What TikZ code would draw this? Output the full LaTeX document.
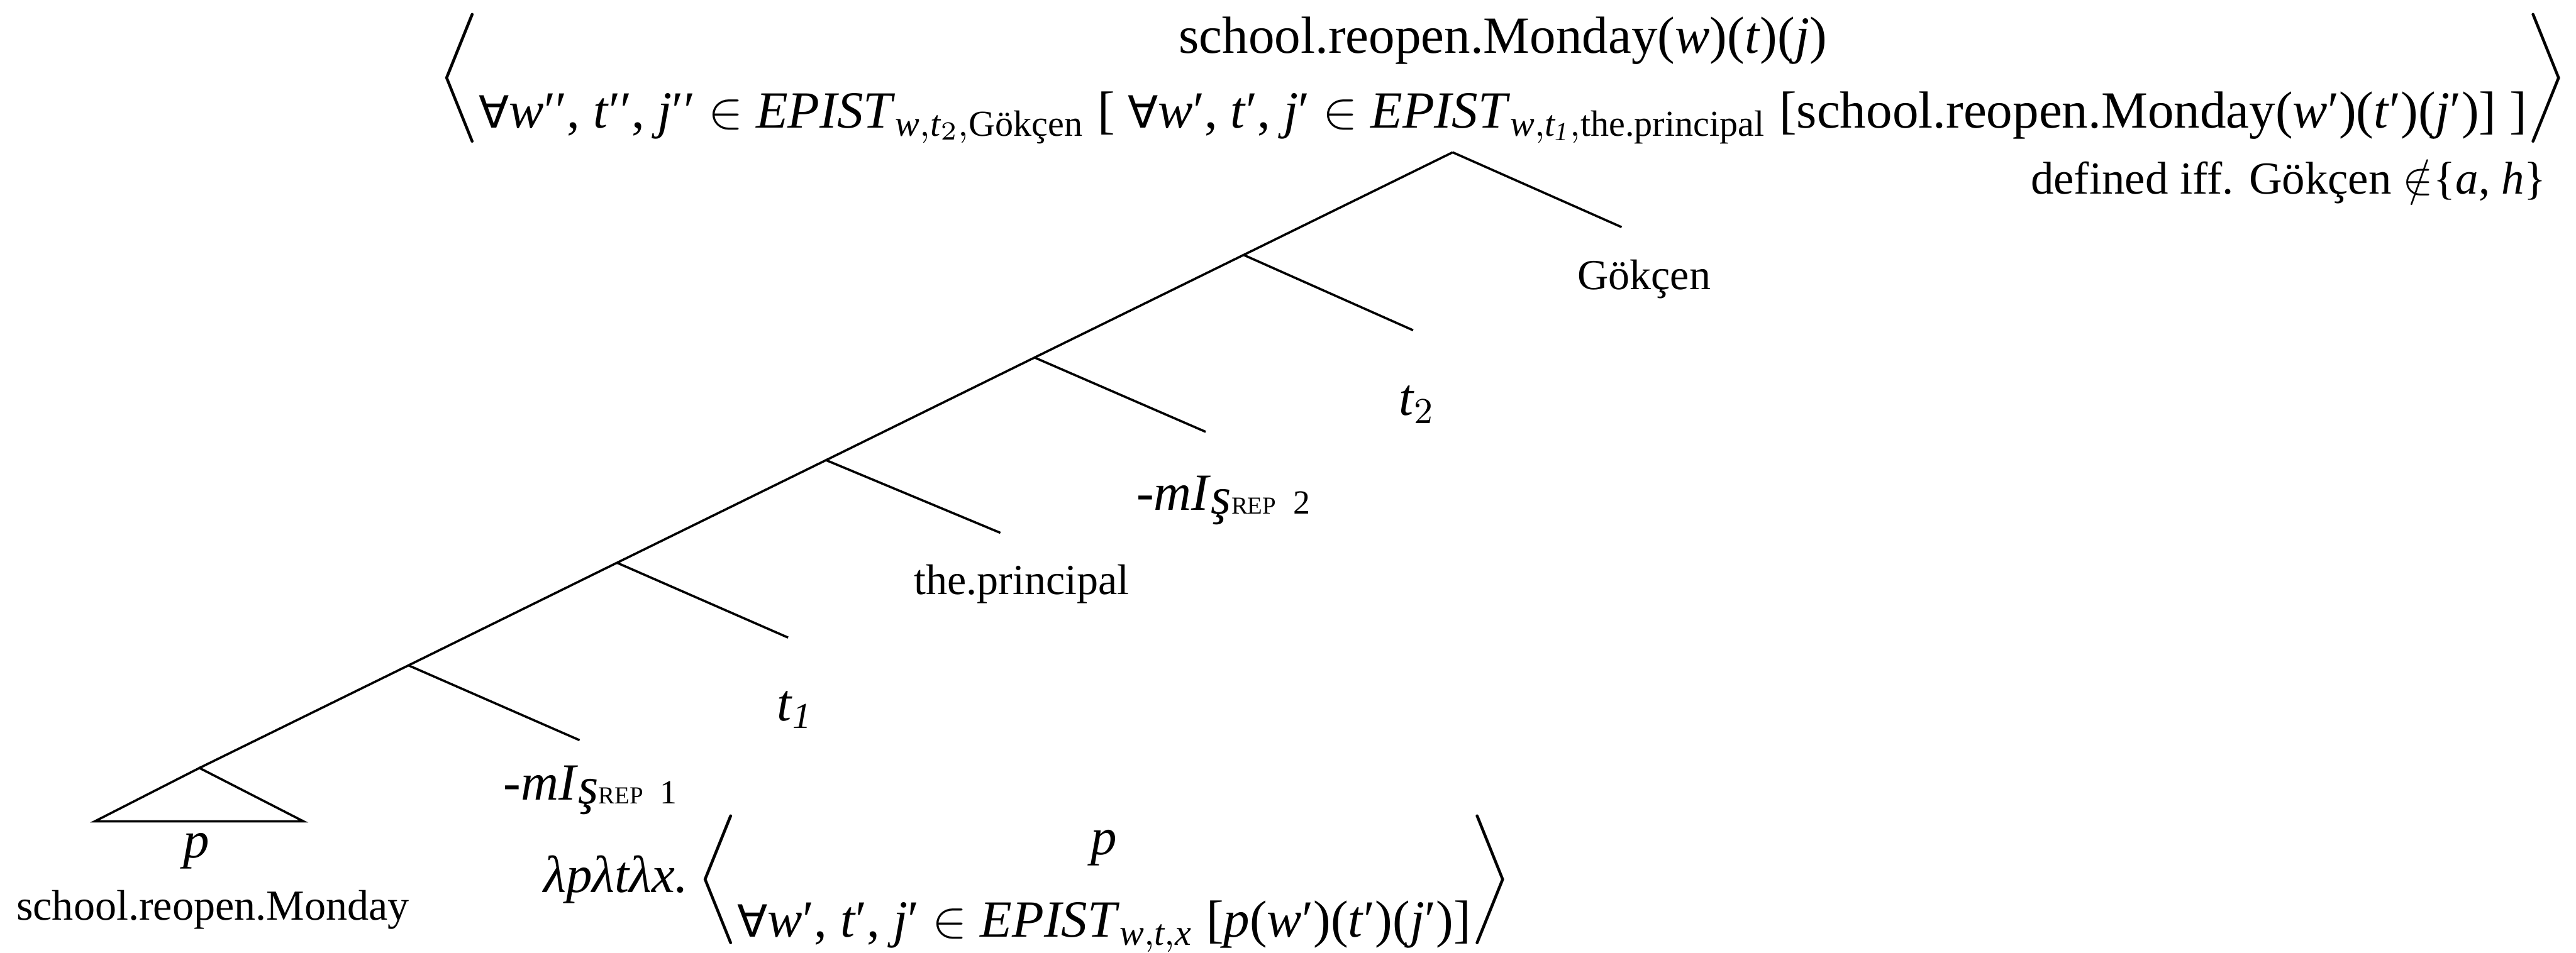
\RequirePackage{fix-cm}
\documentclass[tikz,border=0pt]{standalone}
\usepackage{amsmath}
\usepackage{fontspec}
\setmainfont{Liberation Serif}
\newfontfamily\quantfont[Scale=0.85]{DejaVu Sans}
\usepackage{tikz}
\usetikzlibrary{positioning}
\newcommand{\labsize}{\fontsize{11.4}{13.7}\selectfont}
\newcommand{\semsize}{\fontsize{13.9}{19.9}\selectfont}
\newcommand{\repsize}{\fontsize{6.5}{7}\selectfont}
\newcommand{\idxsize}{\fontsize{9}{10}\selectfont}
\newcommand{\forallsym}{{\quantfont ∀}}
\newcommand{\lowangle}[1]{\raisebox{-0.7pt}{$\bigg#1$}}
\newcommand{\mis}[1]{-\textit{mI}\raisebox{-1pt}{\textit{ş}{\repsize REP}\hspace{4.5pt}{\idxsize #1}}}

\begin{document}
\begin{tikzpicture}[branch/.style={line width=0.6pt}, lab/.style={inner sep=0pt, font=\labsize}, sem/.style={inner sep=0pt, font=\semsize}]
\useasboundingbox (0,0) rectangle (24.09,-8.915);
% spine of the tree
\coordinate (top) at (13.585,-1.425);
\coordinate (n1) at (11.63,-2.385);
\coordinate (n2) at (9.675,-3.345);
\coordinate (n3) at (7.725,-4.305);
\coordinate (n4) at (5.77,-5.265);
\coordinate (n5) at (3.82,-6.225);
\coordinate (n6) at (1.865,-7.185);
% ends of the right branches
\coordinate (e0) at (15.165,-2.125);
\coordinate (e1) at (13.215,-3.09);
\coordinate (e2) at (11.275,-4.04);
\coordinate (e3) at (9.355,-4.985);
\coordinate (e4) at (7.37,-5.965);
\coordinate (e5) at (5.42,-6.925);
\coordinate (tl) at (0.885,-7.685);
\coordinate (tr) at (2.84,-7.685);
\draw[branch] (top) -- (n1) -- (n2) -- (n3) -- (n4) -- (n5) -- (n6);
\draw[branch] (top) -- (e0);
\draw[branch] (n1) -- (e1);
\draw[branch] (n2) -- (e2);
\draw[branch] (n3) -- (e3);
\draw[branch] (n4) -- (e4);
\draw[branch] (n5) -- (e5);
\draw[branch] (n6) -- (tl) -- (tr) -- cycle;
% denotation at the root
\node[sem, anchor=base] (meaning) at (14.055,-0.83)
  {\lowangle\langle$\vcenter{\hbox{\begin{tabular}{@{}c@{}}
   school.reopen.Monday(\textit{w})(\textit{t})(\textit{j})\\
   \forallsym\textit{w}′′, \textit{t}′′, \textit{j}′′ $\in$ \textit{EPIST}$_{\textit{w}{,}\textit{t}_2{,}\text{Gökçen}}$ [ \forallsym\textit{w}′, \textit{t}′, \textit{j}′ $\in$ \textit{EPIST}$_{\textit{w}{,}\textit{t}_{\textit{1}}{,}\text{the.principal}}$ [school.reopen.Monday(\textit{w}′)(\textit{t}′)(\textit{j}′)] ]
  \end{tabular}}}$\lowangle\rangle};
\node[lab, font=\fontsize{12.2}{14.6}\selectfont, anchor=base east] (presup) at (23.82,-1.815) {defined iff. Gökçen $\notin$\{\textit{a}, \textit{h}\}};
% leaves
\node[lab, anchor=base] (gokcen) at (15.375,-2.71) {Gökçen};
\node[sem, anchor=base] (t2) at (13.25,-3.885) {\textit{t}$_2$};
\node[sem, anchor=base] (mis2) at (11.44,-4.775) {\mis{2}};
\node[lab, anchor=base] (principal) at (9.555,-5.56) {the.principal};
\node[sem, anchor=base] (t1) at (7.435,-6.74) {\textit{t}$_{\textit{1}}$};
\node[sem, anchor=base] (mis1) at (5.52,-7.485) {\mis{1}};
\node[sem, anchor=base] (prop) at (1.835,-8.025) {\textit{p}};
\node[lab, anchor=base] (prejacent) at (1.99,-8.61) {school.reopen.Monday};
% denotation of the evidential
\node[sem, font=\fontsize{13.9}{21.9}\selectfont, anchor=base west] (lift) at (5.075,-8.35)
  {\textit{λpλtλx.}\,$\bigg\langle\vcenter{\hbox{\begin{tabular}{@{}c@{}}
   \textit{p}\\
   \forallsym\textit{w}′, \textit{t}′, \textit{j}′ $\in$ \textit{EPIST}$_{\textit{w}{,}\textit{t}{,}\textit{x}}$ [\textit{p}(\textit{w}′)(\textit{t}′)(\textit{j}′)]
  \end{tabular}}}\bigg\rangle$};
\end{tikzpicture}
\end{document}
